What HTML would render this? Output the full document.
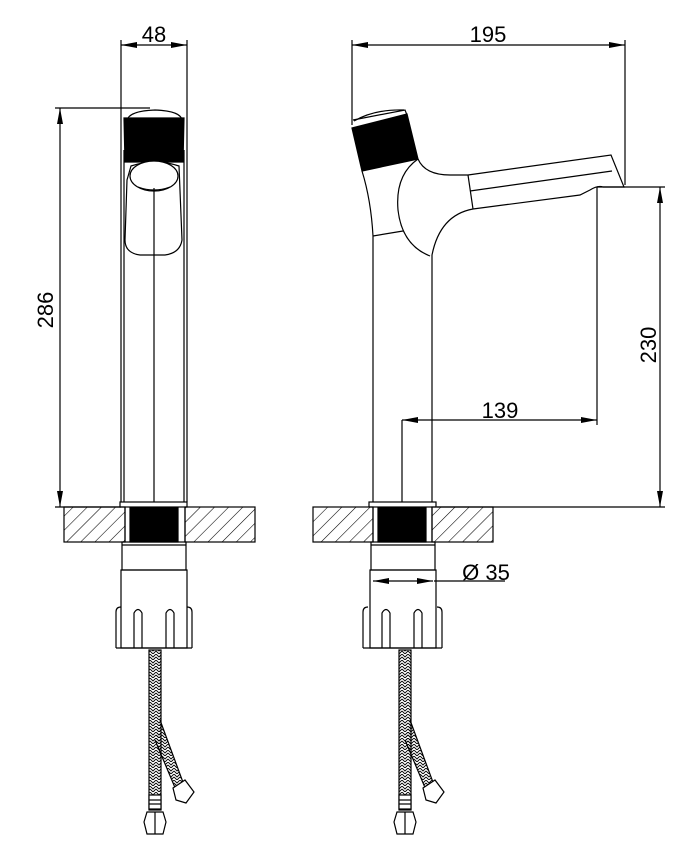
<!DOCTYPE html>
<html><head><meta charset="utf-8"><style>html,body{margin:0;padding:0;background:#fff}svg{display:block}</style></head><body>
<svg width="700" height="860" viewBox="0 0 700 860" xmlns="http://www.w3.org/2000/svg">
<defs>
<pattern id="h" width="10" height="10" patternUnits="userSpaceOnUse" patternTransform="rotate(45)"><line x1="0" y1="0" x2="0" y2="10" stroke="#000" stroke-width="1.1"/></pattern>
<pattern id="br" width="6" height="6" patternUnits="userSpaceOnUse"><path d="M0 0 L3 3 L6 0 M0 3 L3 6 L6 3" fill="none" stroke="#000" stroke-width="0.9"/></pattern>
<marker id="b" viewBox="0 0 16 6" refX="16" refY="3" markerWidth="16" markerHeight="6" orient="auto-start-reverse" markerUnits="userSpaceOnUse"><path d="M0 0 L16 3 L0 6 Z" fill="#000"/></marker>
</defs>
<g fill="none" stroke="#000" stroke-width="1.2">
<line x1="121" y1="40" x2="121" y2="502"/><line x1="187" y1="40" x2="187" y2="502"/>
<line x1="121" y1="45" x2="187" y2="45" marker-start="url(#b)" marker-end="url(#b)"/>
<line x1="55" y1="108" x2="150" y2="108"/><line x1="55" y1="507" x2="121" y2="507"/>
<line x1="60" y1="108" x2="60" y2="507" marker-start="url(#b)" marker-end="url(#b)"/>
<line x1="124" y1="150" x2="124" y2="502"/><line x1="184" y1="150" x2="184" y2="502"/>
<path d="M127 121 Q128 111 155 110 Q182 111 182 121"/>
<path d="M124 118 L184 118 L183 162 L125 162 Z" fill="#000"/>
<path d="M131 166 Q155 158 179 166 L182 240 Q180 253 165 255 L140 255 Q125 253 125 240 L127 180 Z" fill="#fff"/>
<ellipse cx="154" cy="176" rx="24" ry="15" fill="#fff"/>
<path d="M138 187 Q154 193 170 187"/>
<line x1="154" y1="188" x2="154" y2="502"/>
<rect x="120" y="502" width="67" height="5" fill="#fff"/>
<rect x="64" y="507" width="61" height="35" fill="url(#h)"/><rect x="185" y="507" width="70" height="35" fill="url(#h)"/>
<rect x="130" y="508" width="48" height="34" fill="#000"/>
<line x1="125" y1="507" x2="125" y2="542"/><line x1="185" y1="507" x2="185" y2="542"/>
<rect x="122" y="542" width="64" height="28"/><line x1="122" y1="545" x2="186" y2="545"/>
<rect x="121" y="570" width="66" height="78"/>
<path d="M116 648 L116 612 Q116 607 121 607 M192 648 L192 612 Q192 607 187 607 M116 648 L192 648"/>
<path d="M134 648 L134 613 Q138 606 142 613 L142 648 M166 648 L166 613 Q170 606 174 613 L174 648"/>
<path d="M160 720 L184 785 L176 790 L155 740" fill="url(#br)"/>
<rect x="149" y="650" width="12" height="160" fill="url(#br)"/>
<rect x="149" y="795" width="12" height="14" fill="#fff"/>
<line x1="149" y1="800" x2="161" y2="800"/><line x1="149" y1="804" x2="161" y2="804"/>
<path d="M147 812 L163 812 L166 822 L163 834 L147 834 L144 822 Z" fill="#fff"/><line x1="155" y1="812" x2="155" y2="834"/>
<path d="M173 788 L185 780 L194 792 L186 803 L176 800 Z" fill="#fff"/>
<line x1="352" y1="40" x2="352" y2="125"/><line x1="625" y1="40" x2="625" y2="185"/>
<line x1="352" y1="45" x2="625" y2="45" marker-start="url(#b)" marker-end="url(#b)"/>
<line x1="597" y1="187" x2="665" y2="187"/><line x1="437" y1="507" x2="665" y2="507"/>
<line x1="660" y1="187" x2="660" y2="507" marker-start="url(#b)" marker-end="url(#b)"/>
<line x1="597" y1="187" x2="597" y2="425"/><line x1="402" y1="420" x2="402" y2="502"/>
<line x1="402" y1="420" x2="597" y2="420" marker-start="url(#b)" marker-end="url(#b)"/>
<path d="M353 120 L405 110 L407 115"/><path d="M354 121 Q375 109 404 110"/>
<path d="M352 128 L407 114 L418 159 L362 171 Z" fill="#000"/>
<path d="M362 171 Q371 200 373 236 L373 502"/>
<path d="M418 159 Q425 175 450 175 L468 175 L611 155 L624 187 L603 187 Q598 185 590 190 L580 195 L473 209 Q440 215 432 255 L432 502"/>
<line x1="468" y1="175" x2="473" y2="209"/><line x1="470" y1="191" x2="612" y2="171"/>
<path d="M418 159 Q395 175 398 210 Q402 245 430 256"/>
<line x1="373" y1="236" x2="403" y2="231"/>
<rect x="369" y="502" width="67" height="5" fill="#fff"/>
<rect x="313" y="507" width="60" height="35" fill="url(#h)"/><rect x="432" y="507" width="61" height="35" fill="url(#h)"/>
<rect x="378" y="508" width="48" height="34" fill="#000"/>
<line x1="373" y1="507" x2="373" y2="542"/><line x1="432" y1="507" x2="432" y2="542"/>
<rect x="371" y="542" width="64" height="28"/><line x1="371" y1="545" x2="435" y2="545"/>
<rect x="370" y="570" width="66" height="78"/>
<line x1="434" y1="581" x2="505" y2="581"/>
<line x1="373" y1="581" x2="433" y2="581" marker-start="url(#b)" marker-end="url(#b)"/>
<path d="M363 648 L363 612 Q363 607 368 607 M442 648 L442 612 Q442 607 437 607 M363 648 L442 648"/>
<path d="M382 648 L382 613 Q386 606 390 613 L390 648 M414 648 L414 613 Q418 606 422 613 L422 648"/>
<path d="M410 720 L434 785 L426 790 L405 740" fill="url(#br)"/>
<rect x="399" y="650" width="12" height="160" fill="url(#br)"/>
<rect x="399" y="795" width="12" height="14" fill="#fff"/>
<line x1="399" y1="800" x2="411" y2="800"/><line x1="399" y1="804" x2="411" y2="804"/>
<path d="M397 812 L413 812 L416 822 L413 834 L397 834 L394 822 Z" fill="#fff"/><line x1="405" y1="812" x2="405" y2="834"/>
<path d="M423 788 L435 780 L444 792 L436 803 L426 800 Z" fill="#fff"/>
</g>
<g font-family="Liberation Sans Narrow, Liberation Sans, sans-serif" font-size="22" fill="#000" text-anchor="middle">
<text x="154" y="42">48</text>
<text x="488" y="42">195</text>
<text x="500" y="418">139</text>
<text transform="translate(53,310) rotate(-90)">286</text>
<text transform="translate(656,345) rotate(-90)">230</text>
<text x="486" y="580">Ø 35</text>
</g>
</svg>
</body></html>
